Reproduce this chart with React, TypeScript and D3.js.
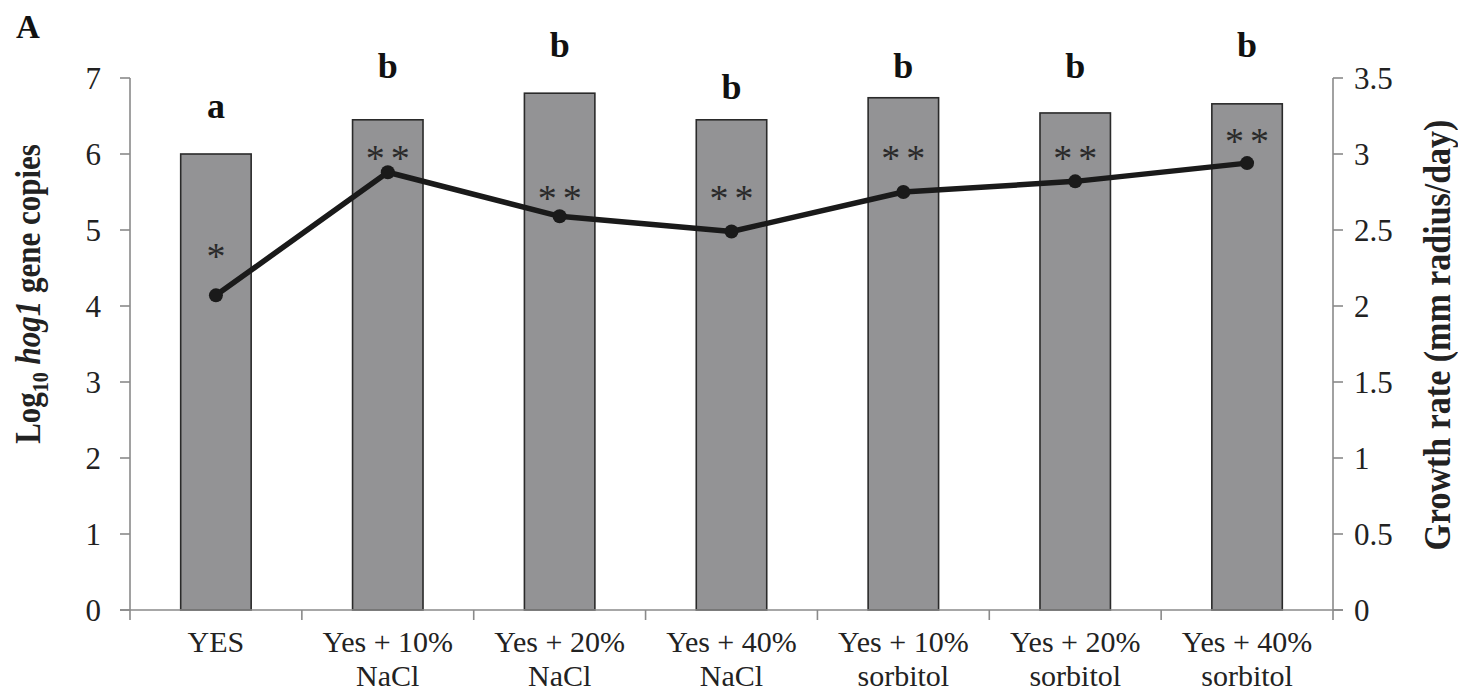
import React from "react";
import * as d3 from "d3";

const categories: string[][] = [
  ["YES"],
  ["Yes + 10%", "NaCl"],
  ["Yes + 20%", "NaCl"],
  ["Yes + 40%", "NaCl"],
  ["Yes + 10%", "sorbitol"],
  ["Yes + 20%", "sorbitol"],
  ["Yes + 40%", "sorbitol"],
];
const geneCopies = [6.0, 6.45, 6.8, 6.45, 6.74, 6.54, 6.66];
const growthRate = [2.07, 2.88, 2.59, 2.49, 2.75, 2.82, 2.94];
const letters = ["a", "b", "b", "b", "b", "b", "b"];
const letterLevel = [6.47, 7.0, 7.27, 6.73, 7.0, 7.0, 7.27];
const stars = ["*", "**", "**", "**", "**", "**", "**"];
const starLevel = [2.37, 3.01, 2.75, 2.75, 3.01, 3.01, 3.125];
const leftTicks = [0, 1, 2, 3, 4, 5, 6, 7];
const rightTicks = [0, 0.5, 1, 1.5, 2, 2.5, 3, 3.5];

const W = 1458, H = 695;
const M = { left: 130, right: 1333, top: 78, bottom: 610 };
const FONT = "'Liberation Serif', 'Times New Roman', serif";
const AXIS = "#8a8a8a";

export default function App() {
  const idx = categories.map((_, i) => String(i));
  const x = d3.scaleBand<string>().domain(idx).range([M.left, M.right]).paddingInner(0.59).paddingOuter(0.295);
  const band = d3.scaleBand<string>().domain(idx).range([M.left, M.right]);
  const yL = d3.scaleLinear().domain([0, 7]).range([M.bottom, M.top]);
  const yR = d3.scaleLinear().domain([0, 3.5]).range([M.bottom, M.top]);
  const cx = (i: number) => (x(String(i)) as number) + x.bandwidth() / 2;
  const line = d3
    .line<number>()
    .x((_, i) => cx(i))
    .y((d) => yR(d));
  const bounds = [...idx.map((k) => band(k) as number), M.right];

  return (
    <svg width={W} height={H} style={{ position: "absolute", left: 0, top: 0, background: "#fff" }} fontFamily={FONT}>
      <text x={16} y={38} fontSize={33} fontWeight="bold" fill="#111">A</text>

      {/* bars */}
      {geneCopies.map((v, i) => (
        <rect key={i} x={x(String(i))} y={yL(v)} width={x.bandwidth()} height={yL(0) - yL(v)} fill="#939395" stroke="#2a2a2a" strokeWidth={1.6} />
      ))}

      {/* axes */}
      <line x1={M.left} x2={M.left} y1={M.top} y2={M.bottom} stroke={AXIS} strokeWidth={1.6} />
      <line x1={M.right} x2={M.right} y1={M.top} y2={M.bottom} stroke={AXIS} strokeWidth={1.6} />
      <line x1={M.left - 10} x2={M.right + 10} y1={M.bottom} y2={M.bottom} stroke={AXIS} strokeWidth={1.6} />
      {leftTicks.map((t) => (
        <g key={"l" + t}>
          <line x1={M.left - 10} x2={M.left} y1={yL(t)} y2={yL(t)} stroke={AXIS} strokeWidth={1.6} />
          <text x={101} y={yL(t)} dy="0.35em" textAnchor="end" fontSize={31} fill="#222">{t}</text>
        </g>
      ))}
      {rightTicks.map((t) => (
        <g key={"r" + t}>
          <line x1={M.right} x2={M.right + 10} y1={yR(t)} y2={yR(t)} stroke={AXIS} strokeWidth={1.6} />
          <text x={1354} y={yR(t)} dy="0.35em" textAnchor="start" fontSize={31} fill="#222">{t}</text>
        </g>
      ))}
      {bounds.map((b, i) => (
        <line key={"xt" + i} x1={b} x2={b} y1={M.bottom} y2={M.bottom + 10} stroke={AXIS} strokeWidth={1.6} />
      ))}
      {categories.map((lines, i) => (
        <text key={"c" + i} textAnchor="middle" fontSize={30} fill="#222">
          {lines.map((s, j) => (
            <tspan key={j} x={(band(String(i)) as number) + band.bandwidth() / 2} y={652 + j * 34}>{s}</tspan>
          ))}
        </text>
      ))}

      {/* line series */}
      <path d={line(growthRate) || ""} fill="none" stroke="#1a1a1a" strokeWidth={5.5} strokeLinejoin="round" />
      {growthRate.map((v, i) => (
        <circle key={"p" + i} cx={cx(i)} cy={yR(v)} r={7} fill="#1a1a1a" />
      ))}

      {/* annotations */}
      {letters.map((s, i) => (
        <text key={"a" + i} x={cx(i)} y={yL(letterLevel[i])} textAnchor="middle" fontSize={36} fontWeight="bold" fill="#111">{s}</text>
      ))}
      {stars.map((s, i) => (
        <text key={"s" + i} x={cx(i) + (s.length > 1 ? 3 : 0)} y={yR(starLevel[i])} dy="0.5em" textAnchor="middle" fontSize={38} letterSpacing={s.length > 1 ? 6 : 0} fill="#2a2a2a">{s}</text>
      ))}

      {/* axis titles */}
      <text transform={`translate(40, ${294}) rotate(-90) scale(1, 1.15)`} textAnchor="middle" fontSize={31} fontWeight="bold" fill="#222">
        Log<tspan fontSize={20} dy={7}>10</tspan>
        <tspan dy={-7}> </tspan>
        <tspan fontStyle="italic">hog1</tspan> gene copies
      </text>
      <text transform={`translate(1450, ${335}) rotate(-90) scale(1, 1.1)`} textAnchor="middle" fontSize={34} fontWeight="bold" fill="#222">
        Growth rate (mm radius/day)
      </text>
    </svg>
  );
}
